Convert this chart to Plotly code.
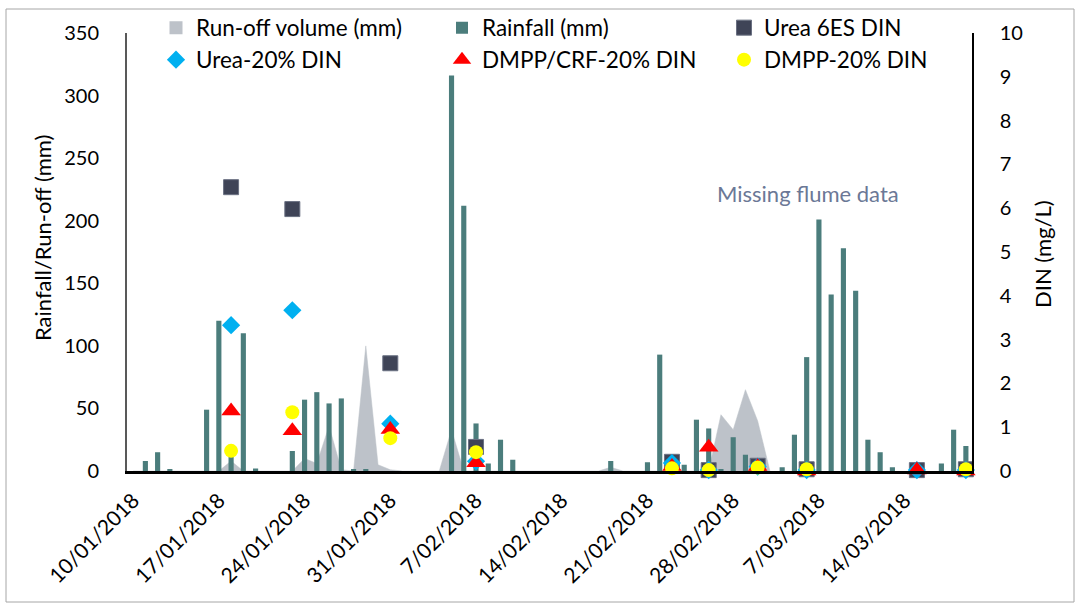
import plotly.graph_objects as go

# ---------------- data ----------------
rain_dates = ['2018-01-11', '2018-01-12', '2018-01-13', '2018-01-16', '2018-01-17', '2018-01-18', '2018-01-19', '2018-01-20',
              '2018-01-23', '2018-01-24', '2018-01-25', '2018-01-26', '2018-01-27', '2018-01-28', '2018-01-29',
              '2018-02-05', '2018-02-06', '2018-02-07', '2018-02-08', '2018-02-09', '2018-02-10',
              '2018-02-18', '2018-02-21', '2018-02-22', '2018-02-24', '2018-02-25', '2018-02-26', '2018-02-27', '2018-02-28',
              '2018-03-01', '2018-03-02', '2018-03-04', '2018-03-05', '2018-03-06', '2018-03-07', '2018-03-08', '2018-03-09', '2018-03-10',
              '2018-03-11', '2018-03-12', '2018-03-13', '2018-03-17', '2018-03-18', '2018-03-19']
rain_mm = [8, 15, 1, 49, 120, 12, 110, 2,
           16, 57, 63, 54, 58, 1, 1,
           316, 212, 38, 6, 25, 9,
           8, 7, 93, 5, 41, 34, 1, 27,
           13, 6, 3, 29, 91, 201, 141, 178, 144,
           25, 15, 3, 6, 33, 20]

runoff_dates = ['2018-01-10', '2018-01-17', '2018-01-18', '2018-01-19', '2018-01-23', '2018-01-24', '2018-01-25', '2018-01-26',
                '2018-01-27', '2018-01-28', '2018-01-29', '2018-01-30', '2018-01-31', '2018-02-01', '2018-02-04',
                '2018-02-05', '2018-02-06', '2018-02-17', '2018-02-18', '2018-02-19', '2018-02-26', '2018-02-27',
                '2018-02-28', '2018-03-01', '2018-03-02', '2018-03-03']
runoff_mm = [0, 0, 8, 0, 0, 10, 6, 36,
             1, 0, 100, 5, 1, 0, 0,
             33, 0, 0, 3, 0, 0, 45,
             33, 65, 40, 0]

sample_dates = ['2018-01-18', '2018-01-23', '2018-01-31', '2018-02-07', '2018-02-23',
                '2018-02-26', '2018-03-02', '2018-03-06', '2018-03-15', '2018-03-19']
urea_6es = [6.48, 5.98, 2.46, 0.55, 0.21, 0.02, 0.12, 0.04, 0.02, 0.04]
urea_20 = [3.33, 3.67, 1.08, 0.22, 0.18, 0.02, 0.10, 0.02, 0.02, 0.02]
dmpp_crf_20 = [1.37, 0.92, 0.95, 0.19, 0.10, 0.54, 0.10, 0.0, 0.02, 0.0]
dmpp_20 = [0.46, 1.34, 0.75, 0.43, 0.06, 0.02, 0.08, 0.04, None, 0.04]

tick_dates = ['2018-01-10', '2018-01-17', '2018-01-24', '2018-01-31', '2018-02-07',
              '2018-02-14', '2018-02-21', '2018-02-28', '2018-03-07', '2018-03-14']
tick_labels = ['10/01/2018', '17/01/2018', '24/01/2018', '31/01/2018', '7/02/2018',
               '14/02/2018', '21/02/2018', '28/02/2018', '7/03/2018', '14/03/2018']

# ---------------- style ----------------
FONT = 'Lato'
C_RUNOFF = '#bdc2c9'
C_RAIN = '#4b7d7c'
C_6ES = '#3f4457'
C_U20 = '#00b0f0'
C_CRF = '#ff0000'
C_DMPP = '#ffff00'
DAY_MS = 86400000

fig = go.Figure()

# run-off area (bottom layer)
fig.add_trace(go.Scatter(x=runoff_dates, y=runoff_mm, mode='lines', fill='tozeroy',
                         fillcolor=C_RUNOFF, line=dict(color=C_RUNOFF, width=0.5),
                         showlegend=False, yaxis='y', hoverinfo='skip'))
# legend proxy for run-off
fig.add_trace(go.Scatter(x=[None], y=[None], mode='markers', name='Run-off volume (mm)',
                         marker=dict(symbol='square', size=13, color=C_RUNOFF),
                         legend='legend', yaxis='y'))
# rainfall bars
fig.add_trace(go.Bar(x=rain_dates, y=rain_mm, name='Rainfall (mm)', width=0.42 * DAY_MS,
                     marker=dict(color=C_RAIN, line=dict(width=0)),
                     legend='legend2', yaxis='y2'))
# DIN markers
fig.add_trace(go.Scatter(x=sample_dates, y=urea_6es, mode='markers', name='Urea 6ES DIN',
                         marker=dict(symbol='square', size=15, color=C_6ES,
                                     line=dict(color='#6a7082', width=1)),
                         cliponaxis=False, legend='legend3', yaxis='y3'))
fig.add_trace(go.Scatter(x=sample_dates, y=urea_20, mode='markers', name='Urea-20% DIN',
                         marker=dict(symbol='diamond', size=14, color=C_U20),
                         cliponaxis=False, legend='legend4', yaxis='y3'))
fig.add_trace(go.Scatter(x=sample_dates, y=dmpp_crf_20, mode='markers', name='DMPP/CRF-20% DIN',
                         marker=dict(symbol='triangle-up', size=17, color=C_CRF),
                         cliponaxis=False, legend='legend5', yaxis='y3'))
fig.add_trace(go.Scatter(x=sample_dates, y=dmpp_20, mode='markers', name='DMPP-20% DIN',
                         marker=dict(symbol='circle', size=14, color=C_DMPP),
                         cliponaxis=False, legend='legend6', yaxis='y3'))

L, R, T, B = 127, 108, 33, 133
W, H = 1080, 604
PW, PH = W - L - R, H - T - B


def px(xp):
    return (xp - L) / PW


def py(yp):
    return (H - B - yp) / PH


def legend_at(xpix, ypix):
    return dict(orientation='h', xanchor='left', yanchor='middle', x=px(xpix), y=py(ypix),
                bgcolor='rgba(0,0,0,0)', font=dict(family=FONT, size=22.5, color='#000000'),
                itemwidth=30)


fig.update_layout(
    width=W, height=H, autosize=False,
    margin=dict(l=L, r=R, t=T, b=B, autoexpand=False),
    paper_bgcolor='white', plot_bgcolor='white',
    barmode='overlay',
    font=dict(family=FONT, size=20, color='#000000'),
    xaxis=dict(type='date', range=['2018-01-09 12:00', '2018-03-19 12:00'],
               tickmode='array', tickvals=tick_dates, ticktext=tick_labels,
               tickangle=-45, showgrid=False, zeroline=False,
               showline=True, linecolor='#000000', linewidth=3, ticks='',
               tickfont=dict(family=FONT, size=21), ticklabelstandoff=6),
    yaxis=dict(range=[0, 350], dtick=50, showgrid=False, zeroline=False,
               showline=True, linecolor='#595959', linewidth=2, ticks='',
               tickfont=dict(family=FONT, size=20), ticklabelstandoff=22),
    yaxis2=dict(range=[0, 350], overlaying='y', visible=False, showgrid=False, zeroline=False),
    yaxis3=dict(range=[0, 10], dtick=1, overlaying='y', side='right', showgrid=False,
                zeroline=False, showline=True, linecolor='#000000', linewidth=1.5, ticks='',
                tickfont=dict(family=FONT, size=20), ticklabelstandoff=22),
    legend=legend_at(156, 28),
    legend2=legend_at(442, 28),
    legend3=legend_at(724, 28),
    legend4=legend_at(156, 60),
    legend5=legend_at(442, 60),
    legend6=legend_at(724, 60),
    annotations=[
        dict(text='Rainfall/Run-off (mm)', xref='paper', yref='paper', x=px(43), y=py(238),
             showarrow=False, textangle=-90, font=dict(family=FONT, size=22, color='#000000'),
             xanchor='center', yanchor='middle'),
        dict(text='DIN (mg/L)', xref='paper', yref='paper', x=px(1043), y=py(254),
             showarrow=False, textangle=-90, font=dict(family=FONT, size=22, color='#000000'),
             xanchor='center', yanchor='middle'),
        dict(text='Missing flume data', xref='paper', yref='paper', x=px(808), y=py(193),
             showarrow=False, font=dict(family=FONT, size=22, color='#6b7896'),
             xanchor='center', yanchor='middle'),
    ],
    shapes=[
        dict(type='rect', xref='paper', yref='paper', x0=px(6), x1=px(1074), y0=py(602), y1=py(9),
             line=dict(color='#a6a6a6', width=1), fillcolor='rgba(0,0,0,0)', layer='below'),
    ],
    showlegend=True,
)

fig.write_html('out.html', config={'displayModeBar': False})

# remove the browser's default page margin so the figure sits at the window origin
with open('out.html', 'r', encoding='utf-8') as f:
    html = f.read()
html = html.replace('<head>', '<head><style>html,body{margin:0;padding:0;overflow:hidden;}</style>', 1)
with open('out.html', 'w', encoding='utf-8') as f:
    f.write(html)
